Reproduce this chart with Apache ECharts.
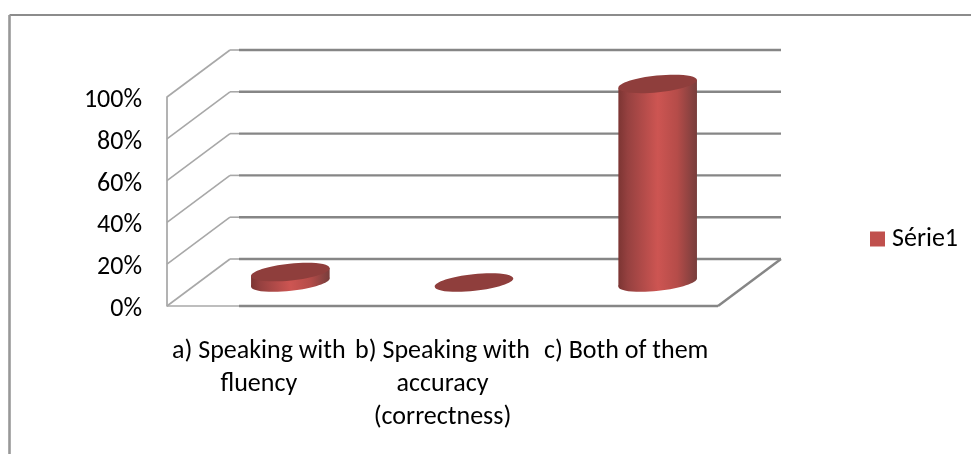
<!DOCTYPE html>
<html>
<head>
<meta charset="utf-8">
<style>html,body{margin:0;padding:0;background:#fff}#c{width:971px;height:454px}</style>
<script src="https://cdn.jsdelivr.net/npm/echarts@6/dist/echarts.min.js"></script>
</head>
<body>
<div id="c"></div>
<script>
const categories = ['a) Speaking with\nfluency', 'b) Speaking with\naccuracy\n(correctness)', 'c) Both of them'];
const seriesName = 'Série1';
const values = [5, 0, 95];
const gridTicks = [0, 20, 40, 60, 80, 100];

const FONT = 'Carlito, Lato, sans-serif';
const FS = 26;
const DEPTH_X = 63, DEPTH_Y = -47;
const RX = 39.5, RY = 8.4, TILT = 6 * Math.PI / 180;
const HW = Math.sqrt(RX*RX*Math.cos(TILT)**2 + RY*RY*Math.sin(TILT)**2);
const DY = (RX*RX - RY*RY) * Math.sin(TILT) * Math.cos(TILT) / HW;

function wall(params, api) {
  const v = api.value(0);
  const cs = params.coordSys;
  const p = api.coord([0, v]);
  const x0 = cs.x, x1 = cs.x + cs.width, y = p[1];
  const bx = x0 + DEPTH_X, by = y + DEPTH_Y;
  const light = {stroke: '#a8a8a8', lineWidth: 1.6, fill: null};
  const dark = {stroke: '#868686', lineWidth: 2.4, fill: null};
  const line = (a, b, s) => ({type: 'line', shape: {x1: a[0], y1: a[1], x2: b[0], y2: b[1]}, style: s});
  const ch = [
    line([x0, y], [bx, by], light),
    line([bx, by], [bx + 9, by], light),
    line([bx + 9, by], [x1 + DEPTH_X, by], dark)
  ];
  if (v === 0) {
    ch.push(line([x0, y], [bx + 9, y], light));
    ch.push(line([bx + 9, y], [x1, y], dark));
    ch.push(line([x1, y], [x1 + DEPTH_X, by], dark));
  }
  return {type: 'group', children: ch};
}

function cylinder(params, api) {
  const base = api.coord([api.value(0), 0]);
  const top = api.coord([api.value(0), api.value(1)]);
  const cx = base[0] + DEPTH_X / 2;
  const by = base[1] + DEPTH_Y / 2;
  const ty = top[1] + DEPTH_Y / 2;
  const grad = {
    type: 'linear', global: true, x: cx - HW, y: 0, x2: cx + HW, y2: 0,
    colorStops: [
      {offset: 0, color: '#7c3533'}, {offset: 0.12, color: '#964140'},
      {offset: 0.5, color: '#cd5552'}, {offset: 0.75, color: '#b54c49'},
      {offset: 0.92, color: '#8a4240'}, {offset: 1, color: '#783d3b'}
    ]
  };
  const ell = (y, fill) => ({
    type: 'ellipse', shape: {cx: cx, cy: y, rx: RX, ry: RY},
    rotation: TILT, originX: cx, originY: y, style: {fill: fill}
  });
  const ch = [];
  if (ty < by) {
    ch.push(ell(by, grad));
    ch.push({type: 'polygon', shape: {points: [
      [cx - HW, ty + DY], [cx + HW, ty - DY], [cx + HW, by - DY], [cx - HW, by + DY]
    ]}, style: {fill: grad}});
  }
  ch.push(ell(ty, '#8f3e3c'));
  return {type: 'group', children: ch};
}

const chart = echarts.init(document.getElementById('c'), null, {renderer: 'canvas'});
chart.setOption({
  animation: false,
  backgroundColor: '#fff',
  textStyle: {fontFamily: FONT},
  grid: {left: 167, right: 253, top: 97, bottom: 148, containLabel: false},
  legend: {
    data: [seriesName], left: 870, top: 226, padding: 0, orient: 'vertical',
    icon: 'rect', itemWidth: 15, itemHeight: 15, itemGap: 0,
    textStyle: {fontFamily: FONT, fontSize: FS, color: '#000', padding: [0, 0, 0, 2]},
    selectedMode: false
  },
  xAxis: {
    type: 'category', data: categories,
    axisLine: {show: false}, axisTick: {show: false},
    axisLabel: {color: '#000', fontFamily: FONT, fontSize: FS, lineHeight: 33, margin: 28.5, interval: 0}
  },
  yAxis: {
    type: 'value', min: 0, max: 100, interval: 20,
    axisLine: {show: true, lineStyle: {color: '#a0a0a0', width: 1.6}},
    axisTick: {show: false}, splitLine: {show: false},
    axisLabel: {
      margin: 25,
      formatter: '{p|{value}%}',
      rich: {p: {color: '#000', fontFamily: FONT, fontSize: FS, padding: [7, 0, 0, 0]}}
    }
  },
  graphic: [
    {type: 'line', silent: true, shape: {x1: 9.5, y1: 15, x2: 971, y2: 15}, style: {stroke: '#8c8c8c', lineWidth: 2}},
    {type: 'line', silent: true, shape: {x1: 9.5, y1: 15, x2: 9.5, y2: 454}, style: {stroke: '#989898', lineWidth: 2.6}}
  ],
  series: [
    {
      name: 'walls', type: 'custom', coordinateSystem: 'cartesian2d', silent: true, z: 1,
      renderItem: wall, data: gridTicks.map(t => [t]), encode: {y: 0}
    },
    {
      name: seriesName, type: 'custom', coordinateSystem: 'cartesian2d', z: 2,
      itemStyle: {color: '#c0504d'},
      renderItem: cylinder,
      data: values.map((v, i) => [i, v]), encode: {x: 0, y: 1}
    }
  ]
});
</script>
</body>
</html>
